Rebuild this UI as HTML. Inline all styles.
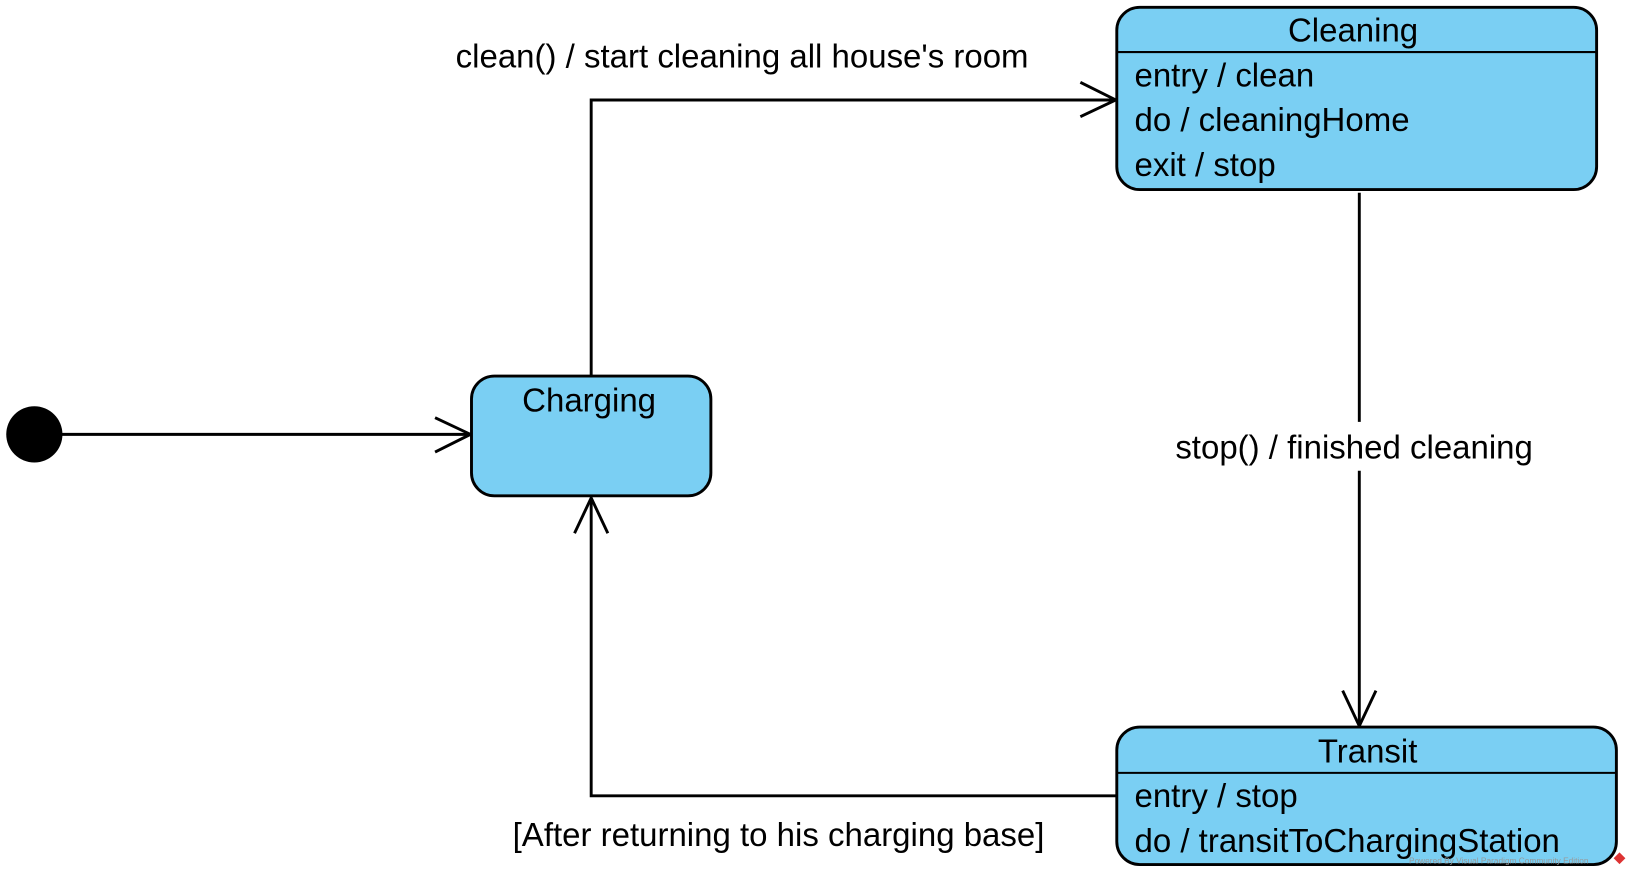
<!DOCTYPE html>
<html><head><meta charset="utf-8"><style>
html,body{margin:0;padding:0;background:#fff;width:1632px;height:876px;overflow:hidden}
svg{display:block}
text{font-family:"Liberation Sans",Arial,sans-serif;font-size:31.7px;fill:#000}
</style></head><body>
<svg width="1632" height="876" viewBox="0 0 1568 841" preserveAspectRatio="none" xmlns="http://www.w3.org/2000/svg">
<g fill="none" stroke="#000" stroke-width="2.8">
<line x1="58" y1="417" x2="452" y2="417"/>
<polyline points="418,401 452,417 418,434"/>
<polyline points="568,360 568,96 1072,96"/>
<polyline points="1038,79 1072,96 1038,112"/>
<line x1="1306" y1="185" x2="1306" y2="405"/>
<line x1="1306" y1="452" x2="1306" y2="697"/>
<polyline points="1290,663 1306,697 1322,663"/>
<polyline points="1073,764 568,764 568,478"/>
<polyline points="552,512 568,478 584,512"/>
</g>
<circle cx="33" cy="417" r="27" fill="#000"/>
<rect x="1073" y="7" width="461" height="175" rx="22" fill="#7acff3" stroke="#000" stroke-width="2.8"/>
<line x1="1073" y1="50" x2="1534" y2="50" stroke="#000" stroke-width="2"/>
<text x="1300" y="40" text-anchor="middle">Cleaning</text>
<text x="1090" y="83">entry / clean</text>
<text x="1090" y="126">do / cleaningHome</text>
<text x="1090" y="169">exit / stop</text>
<rect x="453" y="361" width="230" height="115" rx="22" fill="#7acff3" stroke="#000" stroke-width="2.8"/>
<text x="566" y="395" text-anchor="middle">Charging</text>
<rect x="1073" y="698" width="480" height="132" rx="22" fill="#7acff3" stroke="#000" stroke-width="2.8"/>
<line x1="1073" y1="742" x2="1553" y2="742" stroke="#000" stroke-width="2"/>
<text x="1314" y="732" text-anchor="middle">Transit</text>
<text x="1090" y="775">entry / stop</text>
<text x="1090" y="818">do / transitToChargingStation</text>
<text x="713" y="65" text-anchor="middle">clean() / start cleaning all house's room</text>
<text x="1301" y="440" text-anchor="middle">stop() / finished cleaning</text>
<text x="748" y="812" text-anchor="middle">[After returning to his charging base]</text>
<text x="1440" y="829" text-anchor="middle" style="font-size:8px;fill:#999">Powered By  Visual Paradigm Community Edition</text>
<rect x="1552" y="820" width="8" height="8" fill="#d33" transform="rotate(45 1556 824)"/>
</svg>
</body></html>
